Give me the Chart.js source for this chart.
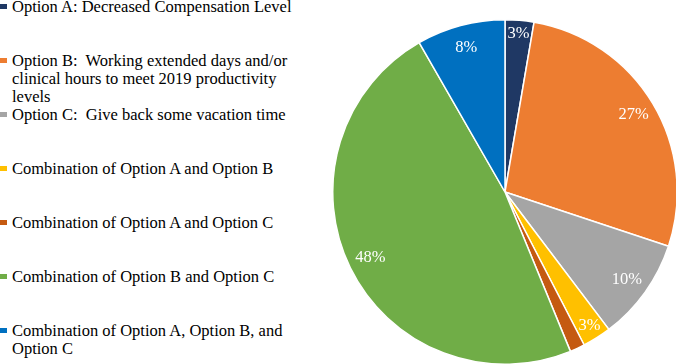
<!DOCTYPE html>
<html>
<head>
<meta charset="utf-8">
<script src="https://cdn.jsdelivr.net/npm/chart.js@4.4.1/dist/chart.umd.min.js"></script>
<style>
  html, body { margin: 0; padding: 0; background: #fff; }
  body { width: 676px; height: 364px; overflow: hidden; position: relative; font-family: "Liberation Serif", "Times New Roman", serif; }
  #legend { position: absolute; left: 0; top: -2px; width: 300px; }
  .item { position: relative; height: 54px; font-size: 16.5px; line-height: 18px; color: #000; }
  .item .box { position: absolute; left: 0; top: 6px; width: 7px; height: 5px; }
  .item .txt { position: absolute; left: 12px; top: 0; width: 288px; white-space: pre-wrap; }
  #wrap { position: absolute; left: 332px; top: 19px; width: 346px; height: 346px; }
</style>
</head>
<body>
<div id="legend"></div>
<div id="wrap"><canvas id="chart" width="346" height="346"></canvas></div>
<script>
var categories = [
    'Option A: Decreased Compensation Level',
    'Option B:  Working extended days and/or clinical hours to meet 2019 productivity levels',
    'Option C:  Give back some vacation time',
    'Combination of Option A and Option B',
    'Combination of Option A and Option C',
    'Combination of Option B and Option C',
    'Combination of Option A, Option B, and Option C'
];
var shares = [2.7, 27.4, 9.6, 2.7, 1.4, 47.9, 8.3];
var colors = ['#1F3864', '#ED7D31', '#A5A5A5', '#FFC000', '#C55A11', '#70AD47', '#0070C0'];

// percent labels drawn inside each slice, near the rim
var sliceLabels = {
    id: 'sliceLabels',
    afterDatasetsDraw: function(chart) {
        var ctx = chart.ctx;
        var meta = chart.getDatasetMeta(0);
        var total = shares.reduce(function(a, b) { return a + b; }, 0);
        ctx.save();
        ctx.fillStyle = '#fff';
        ctx.font = '16.5px "Liberation Serif", "Times New Roman", serif';
        ctx.textAlign = 'center';
        ctx.textBaseline = 'middle';
        meta.data.forEach(function(arc, i) {
            var pct = shares[i] / total * 100;
            if (pct < 2) return;
            var p = arc.getProps(['x', 'y', 'startAngle', 'endAngle', 'outerRadius'], true);
            var mid = (p.startAngle + p.endAngle) / 2;
            var f = pct < 5 ? 0.92 : 0.87;
            var x = p.x + Math.cos(mid) * p.outerRadius * f;
            var y = p.y + Math.sin(mid) * p.outerRadius * f;
            ctx.fillText(Math.round(pct) + '%', x, y);
        });
        ctx.restore();
    }
};

var ctx = document.getElementById('chart').getContext('2d');
var chart = new Chart(ctx, {
    type: 'pie',
    data: {
        labels: categories,
        datasets: [{
            data: shares,
            backgroundColor: colors,
            borderColor: '#ffffff',
            borderWidth: 1.5,
            hoverOffset: 0
        }]
    },
    options: {
        responsive: false,
        animation: false,
        layout: { padding: 0 },
        plugins: {
            legend: { display: false },
            tooltip: { enabled: false }
        }
    },
    plugins: [sliceLabels]
});

// html legend built from the chart's own labels
var legendEl = document.getElementById('legend');
chart.options.plugins.legend.labels.generateLabels(chart).forEach(function(item) {
    var row = document.createElement('div');
    row.className = 'item';
    var box = document.createElement('span');
    box.className = 'box';
    box.style.background = item.fillStyle;
    var txt = document.createElement('span');
    txt.className = 'txt';
    txt.textContent = item.text;
    row.appendChild(box);
    row.appendChild(txt);
    legendEl.appendChild(row);
});
</script>
</body>
</html>
